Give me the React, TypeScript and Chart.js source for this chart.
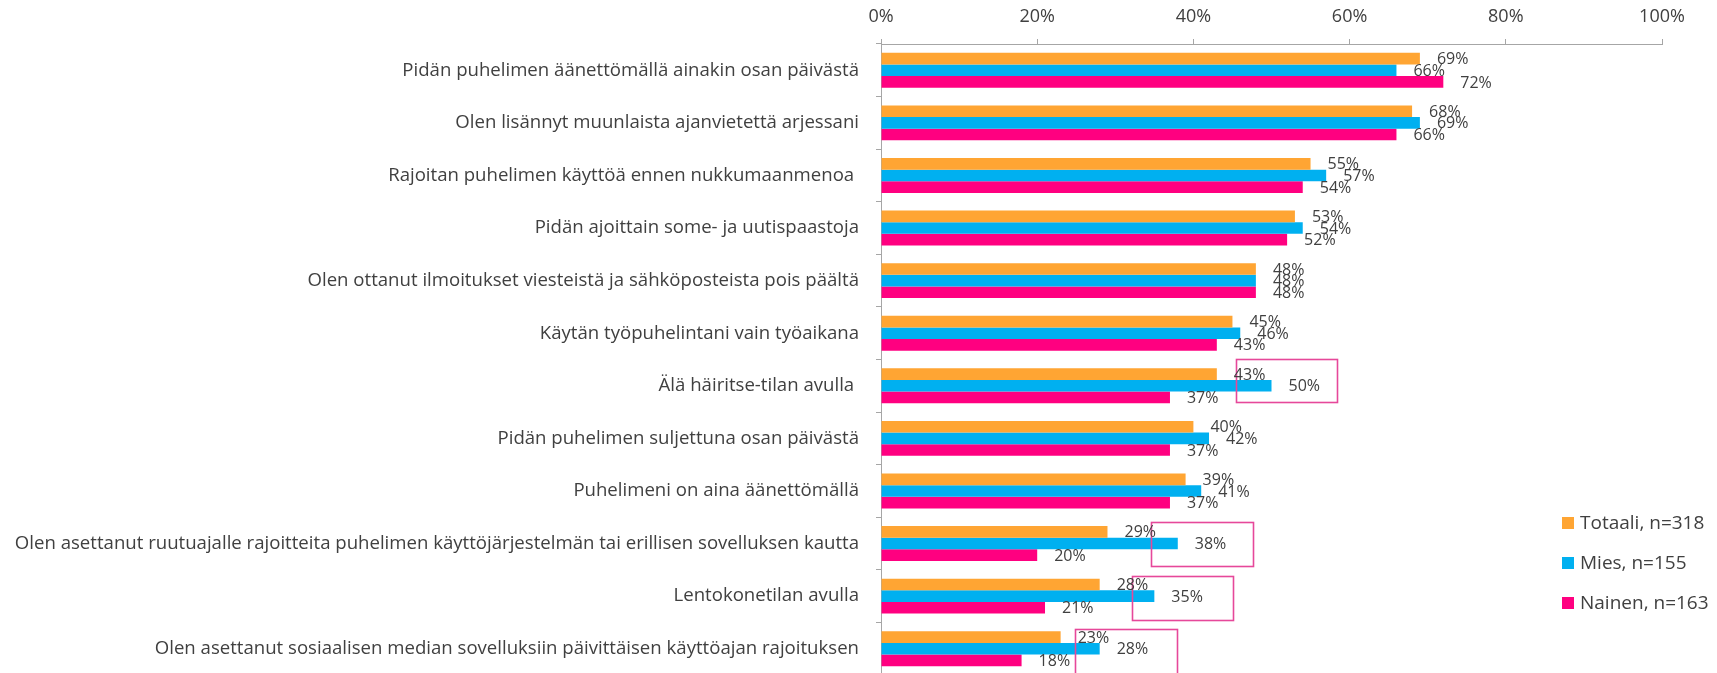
import React, { useEffect, useRef } from "react";
import { Chart, registerables } from "chart.js";

Chart.register(...registerables);

const categories = [
  "Pidän puhelimen äänettömällä ainakin osan päivästä",
  "Olen lisännyt muunlaista ajanvietettä arjessani",
  "Rajoitan puhelimen käyttöä ennen nukkumaanmenoa ",
  "Pidän ajoittain some- ja uutispaastoja",
  "Olen ottanut ilmoitukset viesteistä ja sähköposteista pois päältä",
  "Käytän työpuhelintani vain työaikana",
  "Älä häiritse-tilan avulla ",
  "Pidän puhelimen suljettuna osan päivästä",
  "Puhelimeni on aina äänettömällä",
  "Olen asettanut ruutuajalle rajoitteita puhelimen käyttöjärjestelmän tai erillisen sovelluksen kautta",
  "Lentokonetilan avulla",
  "Olen asettanut sosiaalisen median sovelluksiin päivittäisen käyttöajan rajoituksen",
];

const totaali = [69, 68, 55, 53, 48, 45, 43, 40, 39, 29, 28, 23];
const mies = [66, 69, 57, 54, 48, 46, 50, 42, 41, 38, 35, 28];
const nainen = [72, 66, 54, 52, 48, 43, 37, 37, 37, 20, 21, 18];

const seriesNames = ["Totaali, n=318", "Mies, n=155", "Nainen, n=163"];
const seriesColors = ["#FFA533", "#00B0F0", "#FF0080"];

const xTickValues = [0, 20, 40, 60, 80, 100];

// highlighted (boxed) Mies labels: category index, x-range in %, vertical extent in category units
const highlightIndex = [6, 9, 10, 11];
const highlightFrom = [45.4, 34.6, 32.2, 24.8];
const highlightTo = [58.3, 47.6, 45.1, 37.9];
const highlightTop = [-0.51, -0.41, -0.39, -0.38];
const highlightBottom = [0.31, 0.42, 0.45, 0.7];

const FONT = "'Open Sans', sans-serif";
const TEXT = "#404040";
const AXIS = "#A6A6A6";

const boxPlugin = {
  id: "boxes",
  afterDatasetsDraw(chart: any) {
    const { ctx, scales } = chart;
    const xs = scales.x;
    const ys = scales.y;
    ctx.save();
    ctx.strokeStyle = "#E6489A";
    ctx.lineWidth = 1.6;
    highlightIndex.forEach((ci, i) => {
      const x1 = xs.getPixelForValue(highlightFrom[i]);
      const x2 = xs.getPixelForValue(highlightTo[i]);
      const y1 = ys.getPixelForValue(ci + highlightTop[i]);
      const y2 = ys.getPixelForValue(ci + highlightBottom[i]);
      ctx.strokeRect(Math.round(x1) + 0.5, Math.round(y1) + 0.5, Math.round(x2 - x1), Math.round(y2 - y1));
    });
    ctx.restore();
  },
};

const labelPlugin = {
  id: "valueLabels",
  afterDatasetsDraw(chart: any) {
    const { ctx } = chart;
    ctx.save();
    ctx.font = `16px ${FONT}`;
    ctx.fillStyle = TEXT;
    ctx.textAlign = "left";
    ctx.textBaseline = "middle";
    chart.data.datasets.forEach((ds: any, di: number) => {
      const meta = chart.getDatasetMeta(di);
      meta.data.forEach((el: any, i: number) => {
        ctx.fillText(ds.data[i] + "%", el.x + 17, el.y + 1);
      });
    });
    ctx.restore();
  },
};

const legendPlugin = {
  id: "sideLegend",
  afterDraw(chart: any) {
    const { ctx } = chart;
    ctx.save();
    ctx.font = `19px ${FONT}`;
    ctx.textAlign = "left";
    ctx.textBaseline = "middle";
    chart.data.datasets.forEach((ds: any, i: number) => {
      const cy = 523 + i * 40;
      ctx.fillStyle = ds.backgroundColor;
      ctx.fillRect(1562, cy - 6, 12, 12);
      ctx.fillStyle = TEXT;
      ctx.fillText(ds.label, 1580, cy + 1);
    });
    ctx.restore();
  },
};

export default function App() {
  const canvasRef = useRef<HTMLCanvasElement | null>(null);

  useEffect(() => {
    let chart: Chart | null = null;
    let cancelled = false;
    const make = () => {
      if (cancelled || !canvasRef.current) return;
      chart = new Chart(canvasRef.current, {
        type: "bar",
        data: {
          labels: categories,
          datasets: [totaali, mies, nainen].map((d, i) => ({
            label: seriesNames[i],
            data: d,
            backgroundColor: seriesColors[i],
            borderWidth: 0,
            categoryPercentage: 0.665,
            barPercentage: 1,
          })),
        },
        options: {
          indexAxis: "y",
          animation: false,
          responsive: true,
          maintainAspectRatio: false,
          layout: { padding: { left: 0, right: 55, top: 0, bottom: 1 } },
          plugins: { legend: { display: false }, tooltip: { enabled: false } },
          scales: {
            x: {
              position: "top",
              min: 0,
              max: 100,
              afterBuildTicks: (scale: any) => {
                scale.ticks = xTickValues.map((v) => ({ value: v }));
              },
              afterFit: (scale: any) => {
                scale.height = 44;
                scale.paddingLeft = 0;
                scale.paddingRight = 0;
              },
              ticks: {
                padding: 11,
                color: TEXT,
                font: { family: FONT, size: 18 },
                callback: (v: any) => v + "%",
                maxRotation: 0,
              },
              grid: { drawOnChartArea: false, drawTicks: true, tickLength: 5, color: AXIS },
              border: { display: true, color: AXIS },
            },
            y: {
              afterFit: (scale: any) => {
                scale.width = 881;
                scale.paddingTop = 0;
                scale.paddingBottom = 0;
              },
              ticks: {
                padding: 17,
                color: TEXT,
                autoSkip: false,
                font: { family: FONT, size: 18.6 },
              },
              grid: { drawOnChartArea: false, drawTicks: true, tickLength: 5, color: AXIS, offset: true },
              border: { display: true, color: AXIS },
            },
          },
        },
        plugins: [boxPlugin, labelPlugin, legendPlugin],
      });
    };
    const fontsReady = (document as any).fonts
      ? Promise.all([
          (document as any).fonts.load(`18px 'Open Sans'`),
          (document as any).fonts.load(`16px 'Open Sans'`),
        ]).catch(() => null)
      : Promise.resolve(null);
    fontsReady.then(make);
    return () => {
      cancelled = true;
      if (chart) chart.destroy();
    };
  }, []);

  return (
    <div style={{ position: "fixed", left: 0, top: 0, width: 1717, height: 673, overflow: "hidden", background: "#fff" }}>
      <div style={{ position: "relative", width: 1717, height: 676 }}>
        <canvas ref={canvasRef} />
      </div>
    </div>
  );
}
